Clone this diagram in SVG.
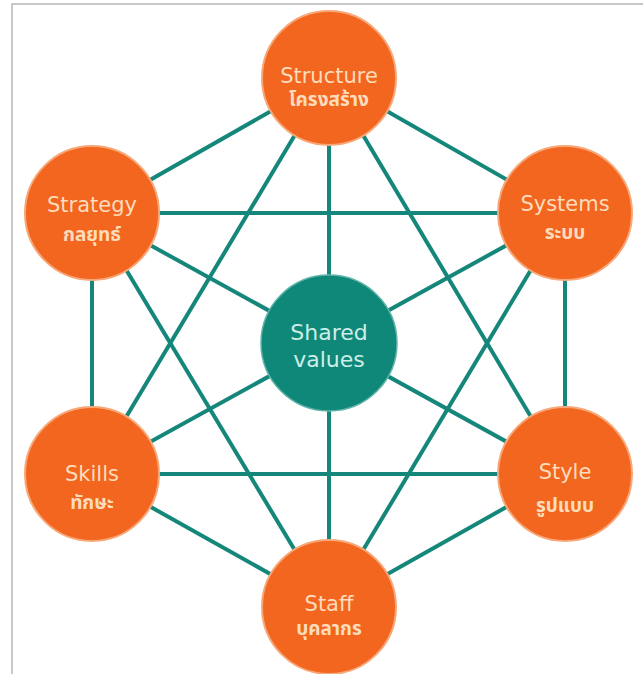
<svg xmlns="http://www.w3.org/2000/svg" width="643" height="674" viewBox="0 0 643 674">
<style>
.o{fill:#f2661f;stroke:#f8a878;stroke-width:2}
.c{fill:#0f887a;stroke:#5fb3a8;stroke-width:1.5}
.en{font-family:"DejaVu Sans",Verdana,sans-serif;font-size:21px;text-anchor:middle;fill:#fddcbc}
.th{font-family:"Noto Sans Thai","Noto Sans","DejaVu Sans",sans-serif;font-size:19px;font-weight:bold;text-anchor:middle;fill:#fddcbc}
.cv{font-family:"DejaVu Sans",Verdana,sans-serif;font-size:22px;text-anchor:middle;fill:#cdeee6}
#edges line{stroke:#15877a;stroke-width:4}
</style>
<rect x="0" y="0" width="643" height="674" fill="#ffffff"/>
<path d="M12,674 V4 H643" fill="none" stroke="#c8c8c8" stroke-width="2"/>
<g id="edges">
<line x1="329" y1="78" x2="92" y2="213"/>
<line x1="329" y1="78" x2="565" y2="213"/>
<line x1="329" y1="78" x2="92" y2="474"/>
<line x1="329" y1="78" x2="565" y2="474"/>
<line x1="329" y1="78" x2="329" y2="607"/>
<line x1="92" y1="213" x2="565" y2="213"/>
<line x1="92" y1="213" x2="92" y2="474"/>
<line x1="92" y1="213" x2="565" y2="474"/>
<line x1="92" y1="213" x2="329" y2="607"/>
<line x1="565" y1="213" x2="565" y2="474"/>
<line x1="565" y1="213" x2="92" y2="474"/>
<line x1="565" y1="213" x2="329" y2="607"/>
<line x1="92" y1="474" x2="565" y2="474"/>
<line x1="92" y1="474" x2="329" y2="607"/>
<line x1="565" y1="474" x2="329" y2="607"/>
</g>
<g id="structure"><circle class="o" cx="329" cy="78" r="67"/><text class="en" x="329" y="83">Structure</text><text class="th" x="329" y="106">โครงสร้าง</text></g>
<g id="strategy"><circle class="o" cx="92" cy="213" r="67"/><text class="en" x="92" y="212">Strategy</text><text class="th" x="92" y="241">กลยุทธ์</text></g>
<g id="systems"><circle class="o" cx="565" cy="213" r="67"/><text class="en" x="565" y="211">Systems</text><text class="th" x="565" y="239">ระบบ</text></g>
<g id="skills"><circle class="o" cx="92" cy="474" r="67"/><text class="en" x="92" y="481">Skills</text><text class="th" x="92" y="509">ทักษะ</text></g>
<g id="style"><circle class="o" cx="565" cy="474" r="67"/><text class="en" x="565" y="479">Style</text><text class="th" x="565" y="512">รูปแบบ</text></g>
<g id="staff"><circle class="o" cx="329" cy="607" r="67"/><text class="en" x="329" y="611">Staff</text><text class="th" x="329" y="635">บุคลากร</text></g>
<g id="shared-values"><circle class="c" cx="329" cy="343" r="68"/><text class="cv" x="329" y="340">Shared</text><text class="cv" x="329" y="367">values</text></g>
</svg>
